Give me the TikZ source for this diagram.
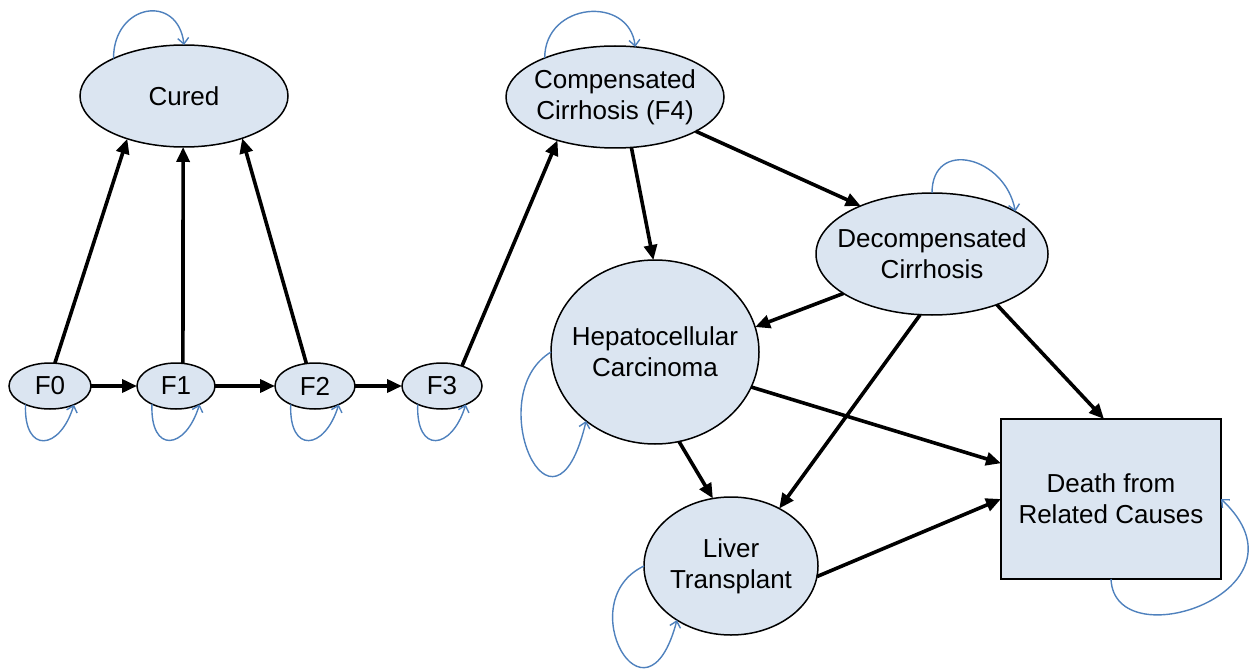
\documentclass[tikz,border=0pt]{standalone}
\usepackage{fontspec}
\setmainfont{Liberation Sans}
\usetikzlibrary{shapes.geometric,arrows.meta}
\definecolor{nodefill}{HTML}{DBE5F1}
\definecolor{loopblue}{HTML}{4F81BD}
\begin{document}
\begin{tikzpicture}[x=1pt,y=-1pt,
  state/.style={ellipse, draw=black, line width=1.5pt, fill=nodefill, inner sep=0pt, outer sep=0pt},
  box/.style={rectangle, draw=black, line width=1.5pt, fill=nodefill, inner sep=0pt, outer sep=0pt, align=center, font=\fontsize{26}{31}\selectfont},
  txt/.style={font=\fontsize{26}{31}\selectfont, align=center, text=black, inner sep=0pt},
  arr/.style={line width=3.6pt, -{Triangle[length=15pt,width=13pt]}},
  selfloop/.style={draw=loopblue, line width=1.4pt, -{Straight Barb[length=6pt,width=11pt]}}]
\useasboundingbox (0,0) rectangle (1255,671);
% nodes
\node[state, minimum width=208pt, minimum height=102pt, label={[txt]center:Cured}] (cured) at (184,96) {};
\node[state, minimum width=82pt, minimum height=46pt, label={[txt]center:F0}] (f0) at (50,386) {};
\node[state, minimum width=78pt, minimum height=46pt, label={[txt]center:F1}] (f1) at (176,386) {};
\node[state, minimum width=80pt, minimum height=46pt, label={[txt]center:F2}] (f2) at (315,386) {};
\node[state, minimum width=80pt, minimum height=46pt, label={[txt]center:F3}] (f3) at (442,386) {};
\node[state, minimum width=218pt, minimum height=102pt, label={[txt]center:{Compensated\\Cirrhosis (F4)}}] (comp) at (615,97) {};
\node[state, minimum width=232pt, minimum height=122pt, label={[txt]center:{Decompensated\\Cirrhosis}}] (decomp) at (932,254) {};
\node[state, minimum width=208pt, minimum height=184pt, label={[txt]center:{Hepatocellular\\Carcinoma}}] (hcc) at (655,352) {};
\node[state, minimum width=174pt, minimum height=138pt, label={[txt]center:{Liver\\Transplant}}] (lt) at (731,566) {};
\node[box, minimum width=220pt, minimum height=160pt] (death) at (1111,499) {Death from\\Related Causes};
% transitions
\draw[arr] (f0.78) -- (cured.217);
\draw[arr] (f1.73) -- (cured.269);
\draw[arr] (f2.111) -- (cured.324);
\draw[arr] (f3.45) -- (comp.217);
\draw[arr] (f0.east) -- (f1.west);
\draw[arr] (f1.east) -- (f2.west);
\draw[arr] (f2.east) -- (f3.west);
\draw[arr] (comp.288) -- (hcc.91);
\draw[arr] (comp.337) -- (decomp.146);
\draw[arr] (decomp.204) -- (hcc.14);
\draw[arr] (decomp.259) -- (lt.50);
\draw[arr] (decomp.322) -- (death.95);
\draw[arr] (hcc.340) -- (death.162);
\draw[arr] (hcc.285) -- (lt.105);
\draw[arr] (lt.353) -- (death.west);
% self loops
\draw[selfloop] (cured.152) .. controls +(0,-55) and +(-6,-52) .. (cured.90);
\draw[selfloop] (comp.151) .. controls +(0,-56) and +(-6,-52) .. (comp.68);
\draw[selfloop] (decomp.90) .. controls +(0,-55) and +(-10,-55) .. (decomp.27);
\draw[selfloop] (f0.217) .. controls +(-2,50) and +(-14,46) .. (f0.322);
\draw[selfloop] (f1.217) .. controls +(-2,50) and +(-14,46) .. (f1.322);
\draw[selfloop] (f2.217) .. controls +(-2,50) and +(-14,46) .. (f2.322);
\draw[selfloop] (f3.217) .. controls +(-2,50) and +(-14,46) .. (f3.322);
\draw[selfloop] (hcc.180) .. controls +(-71,43) and +(-33,140) .. (hcc.225);
\draw[selfloop] (lt.180) .. controls +(-74,35) and +(-31,118) .. (lt.225);
\draw[selfloop] (death.south) .. controls +(3,81) and +(98,92) .. (death.east);
\end{tikzpicture}
\end{document}
